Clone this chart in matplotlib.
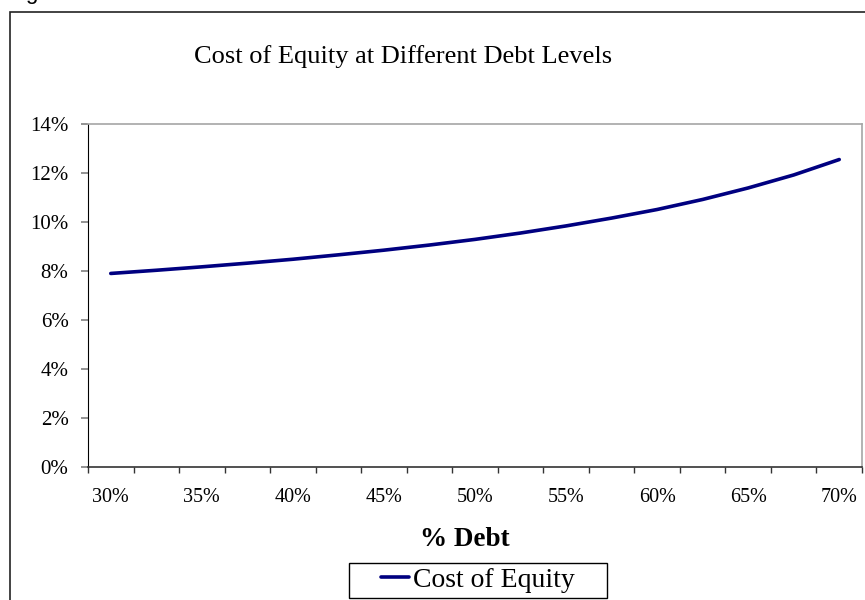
import matplotlib.pyplot as plt
from matplotlib.patches import Rectangle
from matplotlib.ticker import FixedLocator, PercentFormatter

# debt ratios (category axis) and the cost of equity at each one, in %
debt_levels = ['30%', '32.5%', '35%', '37.5%', '40%', '42.5%', '45%', '47.5%', '50%',
               '52.5%', '55%', '57.5%', '60%', '62.5%', '65%', '67.5%', '70%']
cost_of_equity = [7.90, 8.03, 8.17, 8.32, 8.48, 8.66, 8.85, 9.06, 9.29,
                  9.55, 9.84, 10.16, 10.51, 10.92, 11.39, 11.92, 12.55]
y_ticks = [0, 2, 4, 6, 8, 10, 12, 14]

plt.rcParams['font.family'] = ['Liberation Serif', 'DejaVu Serif']

W, H = 865, 600
fig = plt.figure(figsize=(W / 100, H / 100), dpi=100)

# outer chart border
fig.patches.append(Rectangle((10 / W, -0.05), 1.0, 1 - 12 / H + 0.05,
                             transform=fig.transFigure, fill=False,
                             edgecolor='#222222', linewidth=1.2))
# leftover caption text cut off at the top
fig.text(25 / W, 1 + 1 / H, 'g', family='Liberation Sans', fontsize=16,
         va='baseline', ha='left')

ax = fig.add_axes([88 / W, 1 - 467 / H, 774 / W, 343 / H])

x = list(range(len(debt_levels)))
ax.plot(x, cost_of_equity, color='#000080', linewidth=2.6,
        solid_capstyle='round', label='Cost of Equity')

ax.set_xlim(-0.5, len(debt_levels) - 0.5)
ax.set_ylim(0, 14)

# tick marks between categories, labels on every other category
ax.xaxis.set_major_locator(FixedLocator([i - 0.5 for i in range(len(debt_levels) + 1)]))
ax.xaxis.set_major_formatter(plt.NullFormatter())
ax.xaxis.set_minor_locator(FixedLocator(x[::2]))
ax.set_xticklabels(debt_levels[::2], minor=True)
ax.tick_params(axis='x', which='major', direction='out', length=4.3, width=1, color='#333333')
ax.tick_params(axis='x', which='minor', length=0, pad=15, labelsize=14.5)

ax.set_yticks(y_ticks)
ax.yaxis.set_major_formatter(PercentFormatter(decimals=0))
ax.tick_params(axis='y', direction='out', length=5, width=1.2, color='#808080',
               pad=9, labelsize=15)

ax.spines['left'].set_color('black')
ax.spines['bottom'].set_color('#333333')
ax.spines['bottom'].set_linewidth(1.2)
ax.spines['top'].set_color('#a6a6a6')
ax.spines['right'].set_color('#a6a6a6')
ax.spines['top'].set_linewidth(1.2)
ax.spines['right'].set_linewidth(1.2)

fig.text(403 / W, 1 - 57 / H, 'Cost of Equity at Different Debt Levels',
         fontsize=19, ha='center', va='center')
fig.text(465 / W, 1 - 540 / H, '% Debt', fontsize=19.5, fontweight='bold',
         ha='center', va='center')

# legend entry without its own frame; the box is drawn separately
leg = fig.legend(loc='center', bbox_to_anchor=(478 / W, 1 - 580 / H),
                 fontsize=20, frameon=False, handlelength=1.0,
                 handletextpad=0.15, borderpad=0, borderaxespad=0)
fig.patches.append(Rectangle((349 / W, 1 - 598 / H), 258 / W, 35 / H,
                             transform=fig.transFigure, fill=False,
                             edgecolor='black', linewidth=1.0))

fig.savefig('out.png', dpi=100)
